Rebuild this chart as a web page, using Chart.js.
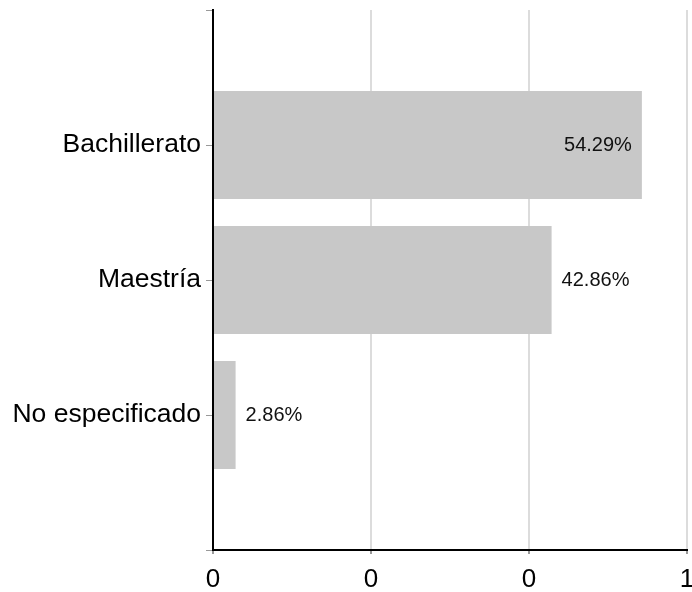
<!DOCTYPE html>
<html>
<head>
<meta charset="utf-8">
<script src="https://cdn.jsdelivr.net/npm/chart.js@4/dist/chart.umd.min.js"></script>
<style>
  html, body { margin: 0; padding: 0; background: #fff; }
  #wrap { width: 692px; height: 592px; }
</style>
</head>
<body>
<div id="wrap"><canvas id="chart" width="692" height="592"></canvas></div>
<script>
// data: empty first/last slots leave the blank band above and below the bars
var categories = ['', 'Bachillerato', 'Maestría', 'No especificado', ''];
var shares     = [null, 0.5429, 0.4286, 0.0286, null];
var xTicks     = [0, 0.2, 0.4, 0.6];

var FONT = '"Liberation Sans", Arial, Helvetica, sans-serif';

// value labels: outside the bar end, or inside when they would not fit
var valueLabels = {
  id: 'valueLabels',
  afterDatasetsDraw: function (chart) {
    var ctx = chart.ctx;
    var area = chart.chartArea;
    var meta = chart.getDatasetMeta(0);
    ctx.save();
    ctx.font = '20px ' + FONT;
    ctx.fillStyle = '#111';
    ctx.textBaseline = 'middle';
    meta.data.forEach(function (bar, i) {
      if (shares[i] == null) return;
      var txt = (shares[i] * 100).toFixed(2) + '%';
      var w = ctx.measureText(txt).width;
      if (bar.x + 10 + w > area.right) {
        ctx.textAlign = 'right';
        ctx.fillText(txt, bar.x - 10, bar.y);
      } else {
        ctx.textAlign = 'left';
        ctx.fillText(txt, bar.x + 10, bar.y);
      }
    });
    ctx.restore();
  }
};

new Chart(document.getElementById('chart'), {
  type: 'bar',
  data: {
    labels: categories,
    datasets: [{
      data: shares,
      backgroundColor: '#c8c8c8',
      borderWidth: 0,
      categoryPercentage: 1,
      barPercentage: 0.8
    }]
  },
  options: {
    indexAxis: 'y',
    responsive: false,
    animation: false,
    layout: { padding: { top: 10, right: 5, left: 0, bottom: 0 } },
    plugins: {
      legend: { display: false },
      tooltip: { enabled: false }
    },
    scales: {
      x: {
        type: 'linear',
        min: 0,
        max: 0.6,
        afterBuildTicks: function (scale) {
          scale.ticks = xTicks.map(function (v) { return { value: v }; });
        },
        afterFit: function (scale) {
          scale.height = 42;
          scale.paddingLeft = 0;
          scale.paddingRight = 0;
        },
        ticks: {
          color: '#000',
          font: { family: FONT, size: 26 },
          padding: 10,
          maxRotation: 0,
          callback: function (v) { return String(Math.round(v)); }
        },
        grid: {
          color: '#dcdcdc',
          lineWidth: 2,
          tickColor: '#999',
          tickLength: 4
        },
        border: { color: '#000', width: 2 }
      },
      y: {
        offset: false,
        afterFit: function (scale) {
          scale.width = 213;
          scale.paddingTop = 0;
          scale.paddingBottom = 0;
        },
        ticks: {
          color: '#000',
          autoSkip: false,
          font: { family: FONT, size: 26.5 },
          padding: 5
        },
        grid: {
          offset: false,
          drawOnChartArea: false,
          tickColor: '#999',
          tickLength: 7,
          lineWidth: 1
        },
        border: { color: '#000', width: 2 }
      }
    }
  },
  plugins: [valueLabels]
});
</script>
</body>
</html>
